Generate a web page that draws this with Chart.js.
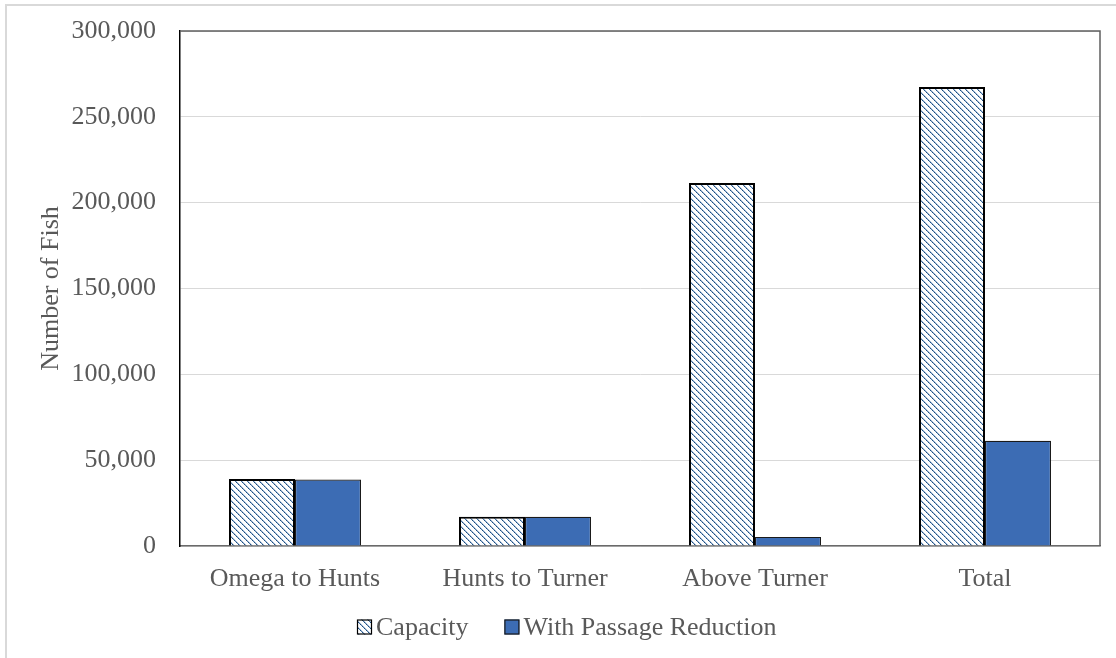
<!DOCTYPE html>
<html>
<head>
<meta charset="utf-8">
<script src="https://cdn.jsdelivr.net/npm/chart.js@4.4.1/dist/chart.umd.min.js"></script>
<style>
  html, body { margin: 0; padding: 0; background: #ffffff; }
  #wrap { position: relative; width: 1116px; height: 658px; }
</style>
</head>
<body>
<div id="wrap"><canvas id="c" width="1116" height="658"></canvas></div>
<script>
const categories = ['Omega to Hunts', 'Hunts to Turner', 'Above Turner', 'Total'];
const seriesNames = ['Capacity', 'With Passage Reduction'];
const capacityValues = [39000, 17000, 211500, 267400];
const passageValues = [38700, 17000, 5300, 61300];
const yTicks = [0, 50000, 100000, 150000, 200000, 250000, 300000];
const yTitle = 'Number of Fish';

const TEXT = '#595959';
const FONT = '"Liberation Serif", "Times New Roman", serif';
const BLUE = '#3c6cb4';

function makePattern() {
  const s = 6;
  const t = document.createElement('canvas');
  t.width = s; t.height = s;
  const g = t.getContext('2d');
  g.fillStyle = '#ffffff';
  g.fillRect(0, 0, s, s);
  for (let i = 0; i < s; i++) {
    g.fillStyle = (i % 2 === 0) ? '#1d4f80' : '#4a78a8';
    g.fillRect(i, i, 1, 1);
    g.fillStyle = '#a9bdd6';
    g.fillRect((i + 1) % s, i, 1, 1);
  }
  return document.getElementById('c').getContext('2d').createPattern(t, 'repeat');
}
const hatch = makePattern();

const frame = {
  id: 'frame',
  afterDraw(chart) {
    const ctx = chart.ctx;
    const a = chart.chartArea;
    ctx.save();
    ctx.strokeStyle = '#d9d9d9';
    ctx.lineWidth = 2;
    ctx.beginPath();
    ctx.moveTo(6, 658); ctx.lineTo(6, 5); ctx.lineTo(1116, 5);
    ctx.stroke();
    ctx.strokeStyle = '#5f5f5f';
    ctx.lineWidth = 1.5;
    ctx.beginPath();
    ctx.moveTo(a.left, a.top); ctx.lineTo(a.right, a.top); ctx.lineTo(a.right, a.bottom);
    ctx.stroke();
    ctx.font = '26px ' + FONT;
    ctx.textBaseline = 'middle';
    ctx.textAlign = 'left';
    const fills = [hatch, BLUE];
    const strokes = ['#000000', '#1a1a1a'];
    const cy = 627;
    let x = 357;
    seriesNames.forEach((name, i) => {
      ctx.fillStyle = fills[i];
      ctx.fillRect(x, cy - 7.5, 15, 15);
      ctx.strokeStyle = strokes[i];
      ctx.lineWidth = 1.2;
      ctx.strokeRect(x + 0.5, cy - 7, 14, 14);
      ctx.fillStyle = TEXT;
      ctx.fillText(name, x + 19, cy + 1);
      x += 19 + ctx.measureText(name).width + 36;
    });
    ctx.restore();
  }
};

new Chart(document.getElementById('c'), {
  type: 'bar',
  data: {
    labels: categories,
    datasets: [
      { label: seriesNames[0], data: capacityValues, backgroundColor: hatch, borderColor: '#000000', borderWidth: 2 },
      { label: seriesNames[1], data: passageValues, backgroundColor: BLUE, borderColor: '#1a1a1a', borderWidth: 1.2 }
    ]
  },
  options: {
    responsive: false,
    animation: false,
    devicePixelRatio: 1,
    layout: { padding: { left: 0, right: 16, top: 31, bottom: 52 } },
    datasets: { bar: { categoryPercentage: 0.574, barPercentage: 1.0 } },
    plugins: { legend: { display: false }, tooltip: { enabled: false } },
    scales: {
      x: {
        grid: { display: false, drawTicks: false },
        border: { display: true, color: '#6a6a6a', width: 1.5 },
        ticks: { color: TEXT, font: { family: FONT, size: 26 }, padding: 18, maxRotation: 0 },
        afterFit(s) { s.height = 60; s.paddingLeft = 0; s.paddingRight = 0; }
      },
      y: {
        min: 0, max: 300000,
        afterBuildTicks(s) { s.ticks = yTicks.map(v => ({ value: v })); },
        grid: { color: '#d9d9d9', lineWidth: 1, drawTicks: false },
        border: { display: true, color: '#000000', width: 1.5 },
        ticks: {
          color: TEXT, font: { family: FONT, size: 26 }, padding: 24,
          callback: v => Number(v).toLocaleString('en-US')
        },
        title: { display: true, text: yTitle, color: TEXT, font: { family: FONT, size: 26 }, padding: { top: 36, bottom: 0 } },
        afterFit(s) { s.width = 180; s.paddingTop = 0; s.paddingBottom = 0; }
      }
    }
  },
  plugins: [frame]
});
</script>
</body>
</html>
